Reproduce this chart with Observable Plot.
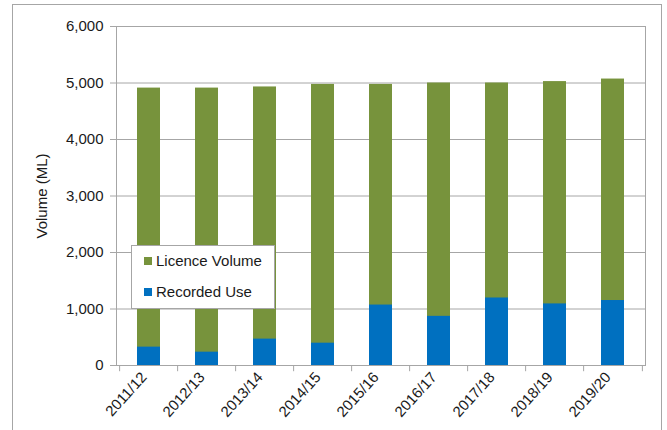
<!DOCTYPE html>
<html>
<head>
<meta charset="utf-8">
<script src="https://cdn.jsdelivr.net/npm/d3@7"></script>
<script src="https://cdn.jsdelivr.net/npm/@observablehq/plot@0.6"></script>
<style>
  html, body { margin: 0; padding: 0; background: #fff; overflow: hidden; }
  #wrap { position: relative; width: 667px; height: 430px; font-family: "Liberation Sans", Arial, sans-serif; }
  #outer { position: absolute; left: 12px; top: 4px; width: 650px; height: 460px; border: 1px solid #a6a6a6; box-sizing: border-box; pointer-events: none; }
  #legend { position: absolute; left: 131px; top: 245px; width: 144px; height: 64px; background: #fff; border: 1px solid #a6a6a6; box-sizing: border-box; font-size: 15px; color: #1a1a1a; }
  .item { position: absolute; left: 12px; display: flex; align-items: center; white-space: nowrap; }
  .sw { width: 8px; height: 8px; margin-right: 4px; }
</style>
</head>
<body>
<div id="wrap">
  <div id="chart"></div>
  <div id="outer"></div>
  <div id="legend"></div>
</div>
<script>
const years = ["2011/12","2012/13","2013/14","2014/15","2015/16","2016/17","2017/18","2018/19","2019/20"];
const licenceVolume = [4910, 4910, 4930, 4975, 4975, 5000, 5000, 5025, 5070];
const recordedUse = [325, 236, 467, 395, 1070, 870, 1195, 1090, 1150];
const yTicks = [0, 1000, 2000, 3000, 4000, 5000, 6000];
const seriesNames = ["Licence Volume", "Recorded Use"];
const seriesColors = ["#77933C", "#0070C0"];

const rows = years.map((y, i) => ({year: y, licence: licenceVolume[i], use: recordedUse[i]}));

const marginLeft = 116, marginRight = 22, width = 667;
const step = (width - marginLeft - marginRight) / years.length;

const chart = Plot.plot({
  width: 667,
  height: 430,
  marginLeft,
  marginRight,
  marginTop: 26,
  marginBottom: 65,
  style: {fontFamily: "'Liberation Sans', Arial, sans-serif", fontSize: "14px", color: "#1a1a1a", background: "transparent"},
  x: {domain: years, paddingInner: 0.61, paddingOuter: 0.305},
  y: {domain: [0, 6000]},
  marks: [
    Plot.gridY(yTicks, {stroke: "#a6a6a6", strokeOpacity: 1}),
    Plot.barY(rows, {x: "year", y: "licence", fill: seriesColors[0]}),
    Plot.barY(rows, {x: "year", y: "use", fill: seriesColors[1]}),
    Plot.frame({stroke: "#a6a6a6"}),
    Plot.ruleX(years, {x: d => d, dx: -step / 2, y1: 0, y2: -110, stroke: "#a6a6a6"}),
    Plot.ruleX(years.slice(-1), {x: d => d, dx: step / 2, y1: 0, y2: -110, stroke: "#a6a6a6"}),
    Plot.axisY(yTicks, {
      tickFormat: d3.format(","), tickSize: 6, tickPadding: 7, stroke: "#a6a6a6",
      fontSize: 15, label: "Volume (ML)", labelAnchor: "center", labelArrow: "none", labelOffset: 80
    }),
    Plot.axisX({tickRotate: -48, tickSize: 0, tickPadding: 9, dx: -5, fontSize: 15, label: null})
  ]
});
document.getElementById("chart").appendChild(chart);
chart.querySelectorAll("text").forEach(t => t.setAttribute("fill", "#1a1a1a"));

const legend = document.getElementById("legend");
seriesNames.forEach((name, i) => {
  const it = document.createElement("div");
  it.className = "item";
  it.style.top = (i === 0 ? 6 : 37) + "px";
  it.innerHTML = `<div class="sw" style="background:${seriesColors[i]}"></div><span>${name}</span>`;
  legend.appendChild(it);
});
</script>
</body>
</html>
